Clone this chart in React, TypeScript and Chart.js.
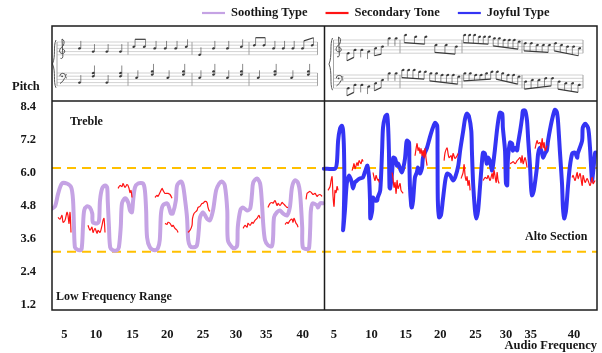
import React, { useEffect, useRef } from 'react';
import { Chart, registerables } from 'chart.js';

Chart.register(...registerables);

const FONT = '"Liberation Serif", "Times New Roman", Times, serif';

// ---------- axes ----------
const yTickValues = [1.2, 2.4, 3.6, 4.8, 6.0, 7.2, 8.4];
const xTickValues = [2.0, 7.1, 13.0, 18.6, 24.4, 29.7, 34.6, 40.5, 45.5, 51.6, 57.1, 62.7, 68.4, 73.3, 77.3, 84.3];
const xTickLabels = ['5', '10', '15', '20', '25', '30', '35', '40', '5', '10', '15', '20', '25', '30', '35', '40'];
const xMin = 0;
const xMax = 88;
const yMin = 1.02;
const yMax = 8.62;
const sectionSplit = 44;
const upperGuide = 6.18;
const lowerGuide = 3.14;
const legendOrder = ['Soothing Type', 'Secondary Tone', 'Joyful Type'];

// ---------- series ----------
const soothingType: [number, number][] = [
  [0, 4.71], [0.5, 4.79], [1.0, 5.26], [1.6, 5.62], [2.4, 5.62], [3.1, 5.48], [3.4, 5.0], [3.55, 4.03], [3.7, 3.3], [4.0, 3.23],
  [4.5, 3.19], [4.8, 3.27], [5.0, 4.03], [5.2, 4.64], [5.65, 4.79], [6.1, 4.75], [6.5, 4.53], [6.6, 4.21], [7.3, 4.17], [7.6, 4.28],
  [7.75, 5.0], [8.1, 5.44], [8.6, 5.55], [8.9, 5.48], [9.0, 5.0], [9.2, 4.03], [9.4, 3.3], [9.85, 3.19], [10.5, 3.19], [10.8, 3.3],
  [11.1, 4.03], [11.3, 4.9], [11.8, 5.08], [12.3, 4.93], [12.6, 4.64], [12.9, 4.57], [13.1, 5.0], [13.4, 5.48], [13.9, 5.62], [14.7, 5.62],
  [15.0, 5.37], [15.2, 4.64], [15.35, 3.66], [15.8, 3.3], [16.6, 3.19], [17.1, 3.27], [17.4, 3.56], [17.6, 4.53], [17.9, 4.82], [18.6, 4.9],
  [18.9, 4.75], [19.2, 4.53], [19.5, 4.53], [20.0, 5.0], [20.2, 5.55], [20.8, 5.69], [21.15, 5.55], [21.5, 5.0], [21.8, 4.39], [22.0, 3.56],
  [22.3, 3.34], [22.9, 3.3], [23.4, 3.37], [23.7, 3.92], [23.9, 4.39], [24.4, 4.57], [25.0, 4.35], [25.5, 4.28], [26.0, 4.64], [26.5, 5.37],
  [27.0, 5.62], [27.45, 5.69], [27.9, 5.55], [28.3, 4.64], [28.4, 3.56], [29.1, 3.3], [29.55, 3.27], [29.9, 3.37], [30.0, 4.03], [30.4, 4.64],
  [30.8, 4.75], [31.5, 4.64], [32.0, 4.71], [32.3, 5.26], [32.5, 5.66], [33.1, 5.8], [33.6, 5.62], [33.9, 4.9], [34.1, 4.17], [34.4, 3.56],
  [34.9, 3.37], [35.5, 3.34], [35.7, 3.66], [35.85, 4.39], [36.3, 4.57], [36.8, 4.64], [37.3, 4.53], [37.95, 4.46], [38.4, 4.75], [38.75, 5.48],
  [39.2, 5.73], [39.7, 5.66], [40.05, 5.26], [40.4, 4.03], [40.5, 3.3], [41.2, 3.23], [41.5, 3.27], [41.7, 4.03], [41.8, 4.64], [42.1, 4.9],
  [42.8, 4.82], [42.95, 4.75], [43.3, 4.9], [43.8, 4.9],
];

const joyfulType: [number, number][] = [
  [43.9, 6.16], [45.7, 6.16], [46.0, 6.38], [46.2, 7.18], [46.5, 7.61], [46.8, 7.72], [47.0, 7.54], [47.15, 6.82], [47.2, 5.62], [47.1, 4.39],
  [47.0, 3.92], [47.3, 4.64], [47.6, 5.62], [48.0, 5.91], [48.4, 5.66], [48.6, 5.44], [48.9, 5.66], [49.25, 5.73], [49.7, 5.8], [50.2, 5.84],
  [50.5, 6.02], [50.9, 6.27], [51.0, 6.2], [51.2, 5.84], [51.35, 5.0], [51.4, 4.35], [51.7, 4.64], [51.8, 5.11], [52.2, 5.0], [52.5, 5.0],
  [52.6, 5.11], [53.0, 5.37], [53.3, 6.82], [53.45, 7.65], [53.8, 8.05], [54.1, 8.12], [54.25, 7.79], [54.4, 6.82], [54.5, 5.48], [54.6, 5.44],
  [54.9, 5.98], [55.1, 6.56], [55.4, 6.53], [55.7, 6.27], [55.9, 6.34], [56.2, 6.16], [56.5, 6.02], [56.7, 6.16], [57.0, 6.53], [57.2, 7.07],
  [57.3, 7.18], [57.65, 7.11], [57.7, 6.45], [57.8, 5.48], [58.0, 4.82], [58.1, 4.75], [58.3, 5.0], [58.6, 5.84], [58.9, 6.02], [59.1, 6.2],
  [59.4, 5.98], [59.75, 6.2], [59.9, 6.56], [60.55, 6.92], [61.0, 7.29], [61.5, 7.65], [61.85, 7.83], [62.2, 7.72], [62.25, 6.82], [62.3, 5.0],
  [62.5, 4.39], [62.8, 4.46], [63.1, 5.0], [63.5, 5.73], [63.8, 5.98], [64.3, 5.91], [64.75, 5.73], [65.1, 5.84], [65.6, 6.27], [65.9, 6.82],
  [66.4, 7.54], [66.7, 7.98], [67.0, 8.16], [67.3, 8.08], [67.7, 7.54], [67.8, 6.82], [68.0, 5.62], [68.3, 4.64], [68.5, 4.35], [68.8, 4.64],
  [69.1, 5.48], [69.4, 6.34], [69.6, 6.74], [69.9, 6.71], [70.2, 6.34], [70.4, 6.56], [70.7, 6.45], [71.05, 6.09], [71.2, 6.27], [71.5, 6.82],
  [71.9, 7.65], [72.3, 8.19], [72.7, 8.16], [72.8, 7.65], [73.15, 6.82], [73.3, 5.62], [73.5, 5.55], [73.6, 6.45], [73.95, 7.11], [74.3, 7.07],
  [74.4, 6.82], [74.8, 6.92], [75.1, 6.82], [75.25, 7.07], [75.6, 7.54], [75.9, 8.01], [76.05, 8.27], [76.4, 8.27], [76.7, 7.9], [76.9, 7.18],
  [77.2, 6.2], [77.35, 5.48], [77.5, 5.19], [77.8, 5.37], [78.3, 6.2], [78.5, 6.71], [78.8, 6.92], [79.1, 6.74], [79.3, 6.56], [79.6, 6.71],
  [79.9, 6.82], [80.1, 7.18], [80.7, 7.9], [81.2, 8.3], [81.5, 8.23], [81.7, 7.9], [82.0, 6.82], [82.35, 5.62], [82.5, 4.75], [82.7, 4.35],
  [83.0, 4.64], [83.3, 5.48], [83.6, 6.2], [84.0, 6.71], [84.45, 6.74], [84.8, 6.56], [84.9, 6.71], [85.6, 7.18], [85.7, 7.65], [86.1, 7.79],
  [86.55, 7.65], [86.7, 7.43], [86.9, 6.82], [87.2, 5.73], [87.4, 6.09], [87.7, 6.74], [87.85, 6.74],
];

// Secondary tone: short separate phrases
const secondaryTone: [number, number][][] = [
  [[0.97, 4.39], [1.29, 4.32], [1.61, 4.46], [1.78, 4.21], [2.1, 4.28], [2.42, 4.57], [2.58, 4.46], [2.75, 4.17], [2.91, 4.57], [3.07, 3.84]],
  [[5.81, 4.1], [6.14, 3.92], [6.46, 4.03], [6.62, 3.84], [6.94, 3.99], [7.27, 3.81], [7.43, 3.92], [7.75, 3.84], [8.08, 4.1], [8.24, 4.28], [8.4, 4.35], [8.56, 3.84]],
  [[10.66, 5.44], [10.98, 5.55], [11.31, 5.51], [11.47, 5.62], [11.79, 5.48], [12.11, 5.58], [12.27, 5.55], [12.44, 5.44], [12.6, 5.29], [12.76, 5.37], [12.92, 5.11]],
  [[16.63, 5.11], [16.96, 5.19], [17.12, 5.15], [17.44, 5.29], [17.77, 5.44], [17.93, 5.37], [18.25, 5.26], [18.57, 5.26], [18.73, 5.26], [19.06, 5.22], [19.38, 5.08]],
  [[18.25, 4.17], [18.57, 4.13], [18.73, 4.21], [19.06, 4.17], [19.38, 4.06], [19.54, 4.1], [19.86, 3.99], [20.19, 3.92], [20.35, 3.84]],
  [[21.96, 3.84], [22.29, 3.92], [22.61, 4.1], [22.69, 4.35], [22.93, 4.53], [23.42, 4.64], [23.58, 4.75], [23.9, 4.79], [24.23, 4.9], [24.39, 4.9], [24.71, 4.97], [25.03, 4.93], [25.19, 4.75], [25.36, 4.64], [25.52, 4.61]],
  [[30.85, 3.99], [31.17, 4.1], [31.49, 4.03], [31.65, 4.17], [31.98, 4.1], [32.3, 4.21], [32.46, 4.17], [32.78, 4.28], [33.11, 4.35], [33.27, 4.42], [33.43, 4.46], [33.59, 4.35]],
  [[34.88, 4.75], [35.21, 4.9], [35.53, 4.93], [35.69, 4.9], [36.01, 5.0], [36.34, 4.82], [36.5, 4.9], [36.82, 4.82], [37.15, 4.93], [37.31, 4.9], [37.63, 4.82], [37.95, 4.75], [38.11, 4.75]],
  [[37.63, 4.13], [37.95, 4.21], [38.11, 4.17], [38.44, 4.28], [38.76, 4.32], [38.92, 4.21], [39.08, 4.35], [39.41, 4.17], [39.57, 4.13], [39.73, 4.03]],
  [[41.02, 5.04], [41.18, 5.26], [41.34, 5.29], [41.67, 5.33], [41.99, 5.26], [42.15, 5.22], [42.47, 5.26], [42.8, 5.15], [42.96, 5.19], [43.28, 5.22], [43.61, 5.15]],
  [[44.57, 5.37], [44.9, 5.51], [45.06, 5.73], [45.22, 5.87], [45.38, 5.15], [45.54, 4.79], [45.7, 5.37], [45.87, 5.29], [46.03, 5.51], [46.19, 5.37]],
  [[48.45, 6.09], [48.61, 6.2], [48.77, 6.34], [48.93, 6.16], [49.1, 6.27], [49.26, 6.38], [49.42, 6.27], [49.58, 6.45], [49.9, 6.34], [50.07, 6.49], [50.23, 6.42]],
  [[51.84, 6.02], [52.0, 5.84], [52.16, 5.73], [52.33, 5.91], [52.49, 5.8], [52.65, 5.73], [52.73, 5.77], [52.81, 5.66]],
  [[54.91, 6.02], [55.07, 5.8], [55.23, 5.48], [55.39, 5.66], [55.56, 5.26], [55.72, 5.73], [55.88, 5.44], [56.2, 5.62], [56.36, 5.37], [56.69, 5.26]],
  [[58.62, 6.63], [58.79, 6.89], [58.95, 7.07], [59.11, 6.82], [59.27, 6.92], [59.43, 6.71], [59.59, 6.89], [59.76, 6.63], [59.92, 6.82], [60.08, 6.56], [60.24, 6.89], [60.4, 6.53], [60.56, 6.27]],
  [[63.31, 6.45], [63.47, 6.74], [63.79, 6.92], [63.95, 6.71], [64.12, 6.56], [64.44, 6.63], [64.6, 6.45], [64.76, 6.71], [65.08, 6.53], [65.41, 6.63], [65.57, 6.71]],
  [[66.05, 5.8], [66.38, 6.02], [66.54, 6.31], [66.7, 5.91], [66.86, 5.73], [67.02, 5.87], [67.18, 5.55], [67.35, 5.73], [67.51, 5.37]],
  [[69.61, 5.73], [69.93, 5.84], [70.25, 5.8], [70.41, 5.91], [70.74, 5.73], [71.06, 5.98], [71.22, 5.8], [71.38, 6.09], [71.71, 5.66], [71.87, 6.02], [72.03, 5.73], [72.19, 5.62]],
  [[73.97, 6.34], [74.29, 6.38], [74.45, 6.42], [74.78, 6.34], [75.1, 6.45], [75.26, 6.49], [75.58, 6.56], [75.74, 6.38], [75.91, 6.63], [76.07, 6.34], [76.39, 6.56], [76.71, 6.2]],
  [[78.0, 6.89], [78.33, 7.18], [78.49, 7.07], [78.81, 7.11], [78.97, 6.89], [79.14, 7.25], [79.3, 6.92], [79.46, 7.11], [79.62, 6.82], [79.94, 7.0]],
  [[83.98, 5.84], [84.14, 5.91], [84.46, 5.73], [84.79, 6.02], [84.95, 5.8], [85.27, 5.98], [85.6, 5.55], [85.76, 5.91], [86.08, 5.66], [86.4, 5.8], [86.56, 5.73], [86.89, 5.55], [87.21, 5.84], [87.37, 5.62], [87.69, 5.73]],
];

// ---------- score excerpts (staff steps, half-spaces below top line) ----------
const leftTreble: number[][] = [[4, 6, 6, 6], [3, 3, 4, 4, 4, 3], [8, 4, 4, 3], [2, 2, 4, 4, 4, 4, 2]];
const leftTrebleGroups: number[][] = [[1, 1, 1, 1], [2, 1, 1, 1, 1], [1, 1, 1, 1], [2, 1, 1, 1, 2]];
const leftBass: number[][][] = [
  [[6], [0, 2], [6], [0, 2]],
  [[3], [-1, 1], [3], [-1, 1]],
  [[3], [-1, 1], [3], [-1, 1]],
  [[3], [-1, 1], [3], [-1, 1]],
];
const rightTreble: number[][] = [
  [8, 6, 6, 7, 5, 4, -1, -1],
  [-3, -2, -2, 3, 3, 4],
  [-3, -3, -3, -2, -2, -2, -1, -1, 0, 0, 0, 1],
  [2, 2, 3, 3, 3, 2, 3, 4, 4, 5],
];
const rightTrebleGroups: number[][] = [[2, 1, 1, 2, 1, 1], [3, 3], [6, 6], [5, 5]];
const rightBass: number[][] = [
  [8, 6, 6, 7, 5, 3, -1, -1],
  [-3, -3, -3, -2, -2, -1, -1, 0, 0, 0, 1],
  [-1, -1, 0, 0, -1, -2, -2, -1, 0, 0, 1],
  [4, 3, 3, 2, 2, 4, 5, 5, 6],
];
const rightBassGroups: number[][] = [[2, 1, 1, 2, 1, 1], [5, 6], [6, 5], [5, 4]];

const COLORS = {
  soothing: '#c5a3e4',
  tone: '#ff1414',
  joyful: '#3434f4',
  guide: '#ffc000',
  frame: '#1c1c1c',
  text: '#161616',
  ink: '#3a3a3a',
};

function line(ctx: CanvasRenderingContext2D, x1: number, y1: number, x2: number, y2: number) {
  ctx.beginPath();
  ctx.moveTo(x1, y1);
  ctx.lineTo(x2, y2);
  ctx.stroke();
}

function drawVoice(
  ctx: CanvasRenderingContext2D,
  top: number,
  gap: number,
  measures: [number, number][],
  notes: (number | number[])[][],
  groups: number[][] | null,
  stemDir: number
) {
  const half = gap / 2;
  ctx.fillStyle = COLORS.ink;
  ctx.strokeStyle = COLORS.ink;
  measures.forEach(([ma, mb], mi) => {
    const ms = notes[mi];
    const n = ms.length;
    const xs = ms.map((_, i) => ma + ((mb - ma) * (i + 0.55)) / (n + 0.1));
    const heads = ms.map((s) => (Array.isArray(s) ? s : [s]).map((st) => top + st * half));
    heads.forEach((hs, i) =>
      hs.forEach((y) => {
        ctx.beginPath();
        ctx.ellipse(xs[i], y, 1.5, 1.1, -0.35, 0, Math.PI * 2);
        ctx.fill();
      })
    );
    const grp = groups ? groups[mi] : ms.map(() => 1);
    let idx = 0;
    grp.forEach((g) => {
      const ids: number[] = [];
      for (let k = 0; k < g; k++) ids.push(idx + k);
      idx += g;
      const sx = (i: number) => xs[i] + (stemDir > 0 ? 1.3 : -1.3);
      const base = (i: number) => (stemDir > 0 ? Math.max(...heads[i]) : Math.min(...heads[i]));
      const tip = (i: number) => (stemDir > 0 ? Math.min(...heads[i]) - 7.5 : Math.max(...heads[i]) + 7.5);
      ctx.lineWidth = 0.6;
      if (g === 1) {
        const i = ids[0];
        line(ctx, sx(i), base(i), sx(i), tip(i));
        return;
      }
      const a = ids[0];
      const b = ids[ids.length - 1];
      const ta = tip(a);
      const tb = tip(b);
      const beamY = (i: number) => ta + ((tb - ta) * (sx(i) - sx(a))) / (sx(b) - sx(a) || 1);
      ids.forEach((i) => line(ctx, sx(i), base(i), sx(i), beamY(i)));
      ctx.lineWidth = 1.2;
      line(ctx, sx(a), ta, sx(b), tb);
    });
  });
}

function drawStaff(ctx: CanvasRenderingContext2D, x0: number, x1: number, top: number, gap: number) {
  ctx.strokeStyle = '#b4b4b4';
  ctx.lineWidth = 0.6;
  for (let i = 0; i < 5; i++) line(ctx, x0, top + i * gap, x1, top + i * gap);
}

function drawTrebleClef(ctx: CanvasRenderingContext2D, x: number, top: number, gap: number) {
  ctx.strokeStyle = '#444';
  ctx.lineWidth = 0.9;
  ctx.beginPath();
  ctx.moveTo(x - 0.5, top + 4 * gap + 3.5);
  ctx.quadraticCurveTo(x + 2.2, top + 4 * gap + 4.5, x + 1.8, top + 4 * gap);
  ctx.lineTo(x + 1, top - 3);
  ctx.quadraticCurveTo(x + 4.5, top - 1.5, x + 2.2, top + gap * 1.2);
  ctx.bezierCurveTo(x - 2.5, top + 2.2 * gap, x - 2.5, top + 3.6 * gap, x + 1.6, top + 3.6 * gap);
  ctx.bezierCurveTo(x + 4.5, top + 3.6 * gap, x + 4.5, top + 2.1 * gap, x + 1.2, top + 2.3 * gap);
  ctx.stroke();
}

function drawBassClef(ctx: CanvasRenderingContext2D, x: number, top: number, gap: number) {
  ctx.strokeStyle = '#444';
  ctx.fillStyle = '#444';
  ctx.lineWidth = 0.9;
  ctx.beginPath();
  ctx.arc(x + 2.2, top + gap, gap * 0.9, Math.PI, Math.PI * 2.3);
  ctx.quadraticCurveTo(x + 3, top + 2.6 * gap, x - 0.5, top + 3.3 * gap);
  ctx.stroke();
  ctx.beginPath();
  ctx.arc(x + 1.6, top + gap * 1.05, 0.9, 0, Math.PI * 2);
  ctx.fill();
  ctx.beginPath();
  ctx.arc(x + 5.8, top + gap * 0.55, 0.6, 0, Math.PI * 2);
  ctx.fill();
  ctx.beginPath();
  ctx.arc(x + 5.8, top + gap * 1.5, 0.6, 0, Math.PI * 2);
  ctx.fill();
}

function drawBrace(ctx: CanvasRenderingContext2D, x: number, y1: number, y2: number) {
  const mid = (y1 + y2) / 2;
  ctx.strokeStyle = '#555';
  ctx.lineWidth = 1;
  ctx.beginPath();
  ctx.moveTo(x + 2, y1);
  ctx.bezierCurveTo(x - 1, y1 + 6, x + 2, mid - 8, x - 1.5, mid);
  ctx.bezierCurveTo(x + 2, mid + 8, x - 1, y2 - 6, x + 2, y2);
  ctx.stroke();
}

function drawSystem(
  ctx: CanvasRenderingContext2D,
  x0: number,
  x1: number,
  trebleTop: number,
  bassTop: number,
  gap: number,
  bars: number[],
  firstNoteX: number,
  treble: (number | number[])[][],
  trebleGroups: number[][] | null,
  trebleStem: number,
  bass: (number | number[])[][],
  bassGroups: number[][] | null,
  bassStem: number
) {
  drawStaff(ctx, x0, x1, trebleTop, gap);
  drawStaff(ctx, x0, x1, bassTop, gap);
  const bottom = bassTop + 4 * gap;
  ctx.strokeStyle = '#9a9a9a';
  ctx.lineWidth = 0.9;
  line(ctx, x0, trebleTop, x0, bottom);
  bars.forEach((b) => {
    line(ctx, b, trebleTop, b, trebleTop + 4 * gap);
    line(ctx, b, bassTop, b, bottom);
  });
  drawBrace(ctx, x0 - 3, trebleTop - 2, bottom + 2);
  drawTrebleClef(ctx, x0 + 4, trebleTop, gap);
  drawBassClef(ctx, x0 + 3.5, bassTop, gap);
  const measures: [number, number][] = [];
  let start = firstNoteX;
  bars.forEach((b) => {
    measures.push([start, b]);
    start = b;
  });
  drawVoice(ctx, trebleTop, gap, measures, treble, trebleGroups, trebleStem);
  drawVoice(ctx, bassTop, gap, measures, bass, bassGroups, bassStem);
}

const decorPlugin = {
  id: 'decor',
  afterDraw(chart: any) {
    const { ctx, chartArea: a, scales } = chart;
    const split = scales.x.getPixelForValue(sectionSplit);
    const frameTop = 26;
    ctx.save();

    // score excerpts
    drawSystem(ctx, a.left + 5, split - 7, 42, 73, 3.2, [128, 192, 249, split - 7], a.left + 20,
      leftTreble, leftTrebleGroups, 1, leftBass, null, 1);
    drawSystem(ctx, split + 9, a.right - 14, 40, 75, 3.3, [400, 462, 522, a.right - 14], split + 20,
      rightTreble, rightTrebleGroups, -1, rightBass, rightBassGroups, -1);

    // frame
    ctx.strokeStyle = COLORS.frame;
    ctx.lineWidth = 1.5;
    ctx.strokeRect(a.left, frameTop, a.right - a.left, a.bottom - frameTop);
    line(ctx, a.left, a.top, a.right, a.top);
    line(ctx, split, frameTop, split, a.bottom);

    // legend
    ctx.font = `bold 12.5px ${FONT}`;
    ctx.textBaseline = 'middle';
    ctx.textAlign = 'left';
    let lx = 202;
    const ly = 13;
    legendOrder.forEach((name) => {
      const d = chart.data.datasets.find((ds: any) => ds.label === name);
      if (!d) return;
      ctx.strokeStyle = d.borderColor;
      ctx.lineWidth = 2.2;
      line(ctx, lx, ly, lx + 23, ly);
      ctx.fillStyle = COLORS.text;
      ctx.fillText(d.label, lx + 29, ly);
      lx += 29 + ctx.measureText(d.label).width + 18;
    });

    // annotations
    ctx.fillStyle = COLORS.text;
    ctx.font = `bold 12.5px ${FONT}`;
    ctx.fillText('Pitch', 12, 87);
    ctx.font = `bold 12px ${FONT}`;
    ctx.fillText('Treble', a.left + 18, 122);
    ctx.fillText('Low Frequency Range', a.left + 4, 297);
    ctx.fillText('Alto Section', 525, 237);
    ctx.restore();
  },
};

export default function App() {
  const ref = useRef<HTMLCanvasElement>(null);

  useEffect(() => {
    const canvas = ref.current;
    if (!canvas) return;
    const pts = (arr: [number, number][]) => arr.map(([x, y]) => ({ x, y }));
    const toneData: { x: number; y: number | null }[] = [];
    secondaryTone.forEach((seg) => {
      seg.forEach(([x, y]) => toneData.push({ x, y }));
      toneData.push({ x: seg[seg.length - 1][0] + 0.01, y: null });
    });
    const tickFont = { family: FONT, size: 12.5, weight: 'bold' as const };

    const chart = new Chart(canvas, {
      type: 'line',
      data: {
        datasets: [
          {
            label: 'Secondary Tone',
            data: toneData,
            borderColor: COLORS.tone,
            borderWidth: 1.2,
            pointRadius: 0,
            tension: 0.3,
            spanGaps: false,
            order: 1,
          } as any,
          {
            label: 'Joyful Type',
            data: pts(joyfulType),
            borderColor: COLORS.joyful,
            borderWidth: 4,
            pointRadius: 0,
            tension: 0.25,
            borderJoinStyle: 'round',
            borderCapStyle: 'round',
            order: 2,
          } as any,
          {
            label: 'Soothing Type',
            data: pts(soothingType),
            borderColor: COLORS.soothing,
            borderWidth: 4,
            pointRadius: 0,
            tension: 0.3,
            borderJoinStyle: 'round',
            borderCapStyle: 'round',
            order: 3,
          } as any,
          {
            label: 'upper',
            data: [{ x: xMin, y: upperGuide }, { x: xMax, y: upperGuide }],
            borderColor: COLORS.guide,
            borderWidth: 2,
            borderDash: [9, 6],
            pointRadius: 0,
            order: 4,
          },
          {
            label: 'lower',
            data: [{ x: xMin, y: lowerGuide }, { x: xMax, y: lowerGuide }],
            borderColor: COLORS.guide,
            borderWidth: 2,
            borderDash: [9, 6],
            pointRadius: 0,
            order: 4,
          },
        ],
      },
      options: {
        animation: false,
        responsive: false,
        devicePixelRatio: 1,
        layout: { padding: { top: 101, right: 5, left: 0, bottom: 0 } },
        plugins: {
          legend: { display: false },
          tooltip: { enabled: false },
        },
        scales: {
          x: {
            type: 'linear',
            min: xMin,
            max: xMax,
            grid: { display: false },
            border: { display: false },
            afterBuildTicks: (scale: any) => {
              scale.ticks = xTickValues.map((v) => ({ value: v }));
            },
            afterFit: (scale: any) => {
              scale.height = 43;
            },
            ticks: {
              autoSkip: false,
              maxRotation: 0,
              padding: 9,
              color: COLORS.text,
              font: tickFont,
              callback: (_v: any, i: number) => xTickLabels[i],
            },
            title: {
              display: true,
              text: 'Audio Frequency',
              align: 'end',
              color: COLORS.text,
              font: tickFont,
              padding: { top: 0, bottom: 0 },
            },
          },
          y: {
            type: 'linear',
            min: yMin,
            max: yMax,
            grid: { display: false },
            border: { display: false },
            afterBuildTicks: (scale: any) => {
              scale.ticks = yTickValues.map((v) => ({ value: v }));
            },
            afterFit: (scale: any) => {
              scale.width = 52;
            },
            ticks: {
              padding: 8,
              color: COLORS.text,
              font: tickFont,
              callback: (v: any) => Number(v).toFixed(1),
            },
          },
        },
      } as any,
      plugins: [decorPlugin],
    });
    return () => chart.destroy();
  }, []);

  return (
    <div style={{ position: 'absolute', left: 0, top: 0, width: 602, height: 353, background: '#fff' }}>
      <canvas ref={ref} width={602} height={353} style={{ display: 'block', width: 602, height: 353 }} />
    </div>
  );
}
